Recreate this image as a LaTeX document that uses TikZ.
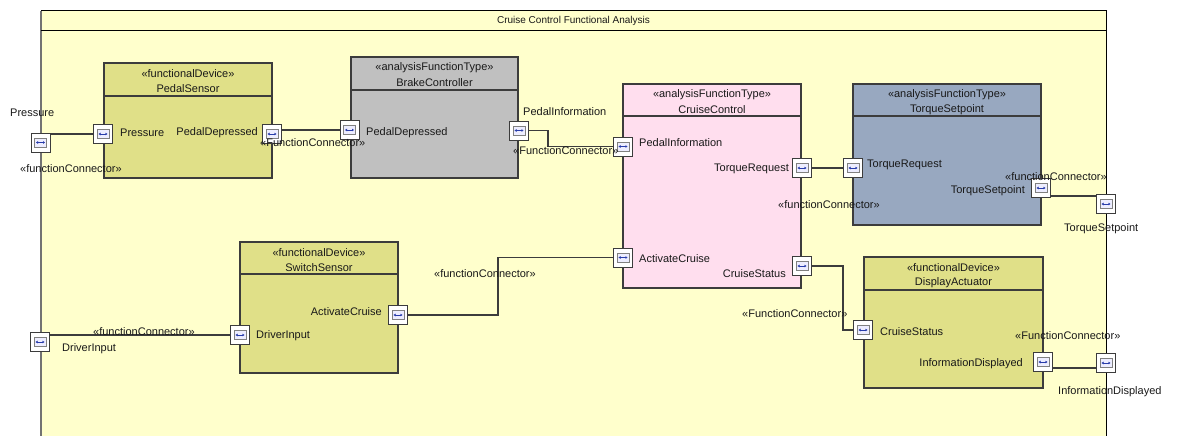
\documentclass[tikz,border=0pt]{standalone}
\usepackage{fontspec}
\setmainfont{Liberation Sans}
\usetikzlibrary{fit,arrows.meta,calc}
\definecolor{framebg}{RGB}{255,255,204}
\definecolor{devfill}{RGB}{224,224,136}
\definecolor{brakefill}{RGB}{192,192,192}
\definecolor{ccfill}{RGB}{255,222,238}
\definecolor{tsfill}{RGB}{152,168,192}
\definecolor{edge}{RGB}{60,60,60}
\definecolor{portblue}{RGB}{40,60,170}
\tikzset{
  lbl/.style={font=\fontsize{11}{13}\selectfont, inner sep=0pt, text=black!90},
  titlelbl/.style={font=\fontsize{10}{12}\selectfont, inner sep=0pt, text=black!90},
  port/.style={draw=edge, line width=1pt, fill=white, minimum size=19pt, inner sep=0pt,
    path picture={
      \draw[draw=gray, fill=blue!7, line width=0.6pt]
        ([shift={(-6pt,-4.5pt)}]path picture bounding box.center) rectangle
        ([shift={(6pt,4.5pt)}]path picture bounding box.center);
      \draw[portblue, line width=0.8pt, {Latex[length=2pt,width=3pt]}-{Latex[length=2pt,width=3pt]}]
        ([xshift=-4.5pt]path picture bounding box.center) -- ([xshift=4.5pt]path picture bounding box.center);
    }},
  wire/.style={draw=edge, line width=1.1pt},
  blk/.style={draw=edge, line width=1.1pt, inner sep=0pt},
}
\newcommand\fblock[9]{%
  \node[blk, fill=#2, fit={(#3,#4) (#5,#6)}] (#1) {};
  \draw[blk] (#3,#7) -- (#5,#7);
  \node[lbl] at ({(#3+#5)/2},#4+10.5) {«#8»};
  \node[lbl] at ({(#3+#5)/2},#4+25.5) {#9};
}
\begin{document}
\begin{tikzpicture}[x=1pt,y=-1pt]
\useasboundingbox (0,0) rectangle (1177,436);
% frame
\fill[framebg] (41,11) rectangle (1106,440);
\draw[black!55, line width=1.2pt] (41,440) -- (41,11);
\draw[black, line width=1pt] (41,11) -- (1106,11) -- (1106,440);
\draw[black, line width=1pt] (41,31) -- (1106,31);
\node[titlelbl] (title) at (573.5,21) {Cruise Control Functional Analysis};

% blocks
\fblock{ps}{devfill}{104}{63}{272}{178}{96}{functionalDevice}{PedalSensor}
\fblock{bc}{brakefill}{351}{57}{518}{178}{90}{analysisFunctionType}{BrakeController}
\fblock{cc}{ccfill}{623}{84}{801}{288}{116}{analysisFunctionType}{CruiseControl}
\fblock{ts}{tsfill}{853}{84}{1041}{225}{116}{analysisFunctionType}{TorqueSetpoint}
\fblock{ss}{devfill}{240}{242}{398}{373}{274}{functionalDevice}{SwitchSensor}
\fblock{da}{devfill}{864}{257}{1043}{388}{290}{functionalDevice}{DisplayActuator}

% ports
\node[port] (inPress) at (40.5,142.5) {};
\node[port] (psPress) at (103,134) {};
\node[port] (psPD) at (272,134) {};
\node[port] (bcPD) at (349.5,130) {};
\node[port] (bcPI) at (519,130.5) {};
\node[port] (ccPI) at (623,146.5) {};
\node[port] (ccTR) at (802,168) {};
\node[port] (ccAC) at (623,257.5) {};
\node[port] (ccCS) at (802,266) {};
\node[port] (tsTR) at (853,168) {};
\node[port] (tsTS) at (1041,188) {};
\node[port] (outTS) at (1106,204) {};
\node[port] (ssDI) at (240,335) {};
\node[port] (ssAC) at (398,315) {};
\node[port] (inDI) at (40,342) {};
\node[port] (daCS) at (863,330) {};
\node[port] (daID) at (1043,362) {};
\node[port] (outID) at (1106,363) {};

% wires
\draw[wire] (psPress.west) -- (psPress.west -| inPress.east);
\draw[wire] (bcPD.west) -- (bcPD.west -| psPD.east);
\draw[wire] (bcPI.east) -- ++(19,0) |- (ccPI.west);
\draw[wire] (ccTR.east) -- (tsTR.west);
\draw[wire] ([yshift=-8pt]tsTS.east) -- ([yshift=-8pt]tsTS.east -| outTS.west);
\draw[wire] (ssAC.east) -- ++(90,0) |- (ccAC.west);
\draw[wire] (ssDI.west) -- (ssDI.west -| inDI.east);
\draw[wire] (ccCS.east) -- ++(31,0) |- (daCS.west);
\draw[wire] ([yshift=-6pt]daID.east) -- ([yshift=-6pt]daID.east -| outID.west);

% redraw ports over wires
\foreach \p/\x/\y in {inPress/40.5/142.5, psPress/103/134, psPD/272/134, bcPD/349.5/130, bcPI/519/130.5,
  ccPI/623/146.5, ccTR/802/168, ccAC/623/257.5, ccCS/802/266, tsTR/853/168, tsTS/1041/188,
  outTS/1106/204, ssDI/240/335, ssAC/398/315, inDI/40/342, daCS/863/330, daID/1043/362, outID/1106/363}
  \node[port] at (\x,\y) {};

% labels
\node[lbl, anchor=west] (lPress) at (10,113) {Pressure};
\node[lbl, anchor=west] (c1) at (20,169) {«functionConnector»};
\node[lbl, anchor=west] (lpsP) at (120,133) {Pressure};
\node[lbl, anchor=east] (lpsPD) at (258,133) {PedalDepressed};
\node[lbl, anchor=west] (c2) at (260,143) {«FunctionConnector»};
\node[lbl, anchor=west] (lbcPD) at (366,133) {PedalDepressed};
\node[lbl, anchor=west] (lbcPI) at (523,112) {PedalInformation};
\node[lbl, anchor=west] (c3) at (513,151) {«FunctionConnector»};
\node[lbl, anchor=west] (lccPI) at (639,143) {PedalInformation};
\node[lbl, anchor=east] (lccTR) at (789,169) {TorqueRequest};
\node[lbl, anchor=west] (lccAC) at (639,259) {ActivateCruise};
\node[lbl, anchor=east] (lccCS) at (786,274) {CruiseStatus};
\node[lbl, anchor=west] (c4) at (778,205) {«functionConnector»};
\node[lbl, anchor=west] (ltsTR) at (867,165) {TorqueRequest};
\node[lbl, anchor=east] (ltsTS) at (1025,191) {TorqueSetpoint};
\node[lbl, anchor=west] (c5) at (1005,177) {«functionConnector»};
\node[lbl, anchor=west] (loutTS) at (1064,229) {TorqueSetpoint};
\node[lbl, anchor=east] (lssAC) at (382,312) {ActivateCruise};
\node[lbl, anchor=west] (lssDI) at (256,336) {DriverInput};
\node[lbl, anchor=west] (c6) at (93,332) {«functionConnector»};
\node[lbl, anchor=west] (lDI) at (62,349) {DriverInput};
\node[lbl, anchor=west] (c7) at (434,274) {«functionConnector»};
\node[lbl, anchor=west] (ldaCS) at (880,332) {CruiseStatus};
\node[lbl, anchor=east] (ldaID) at (1023,364) {InformationDisplayed};
\node[lbl, anchor=west] (c8) at (742,314) {«FunctionConnector»};
\node[lbl, anchor=west] (c9) at (1015,336) {«FunctionConnector»};
\node[lbl, anchor=west] (loutID) at (1058,392) {InformationDisplayed};
\end{tikzpicture}
\end{document}
